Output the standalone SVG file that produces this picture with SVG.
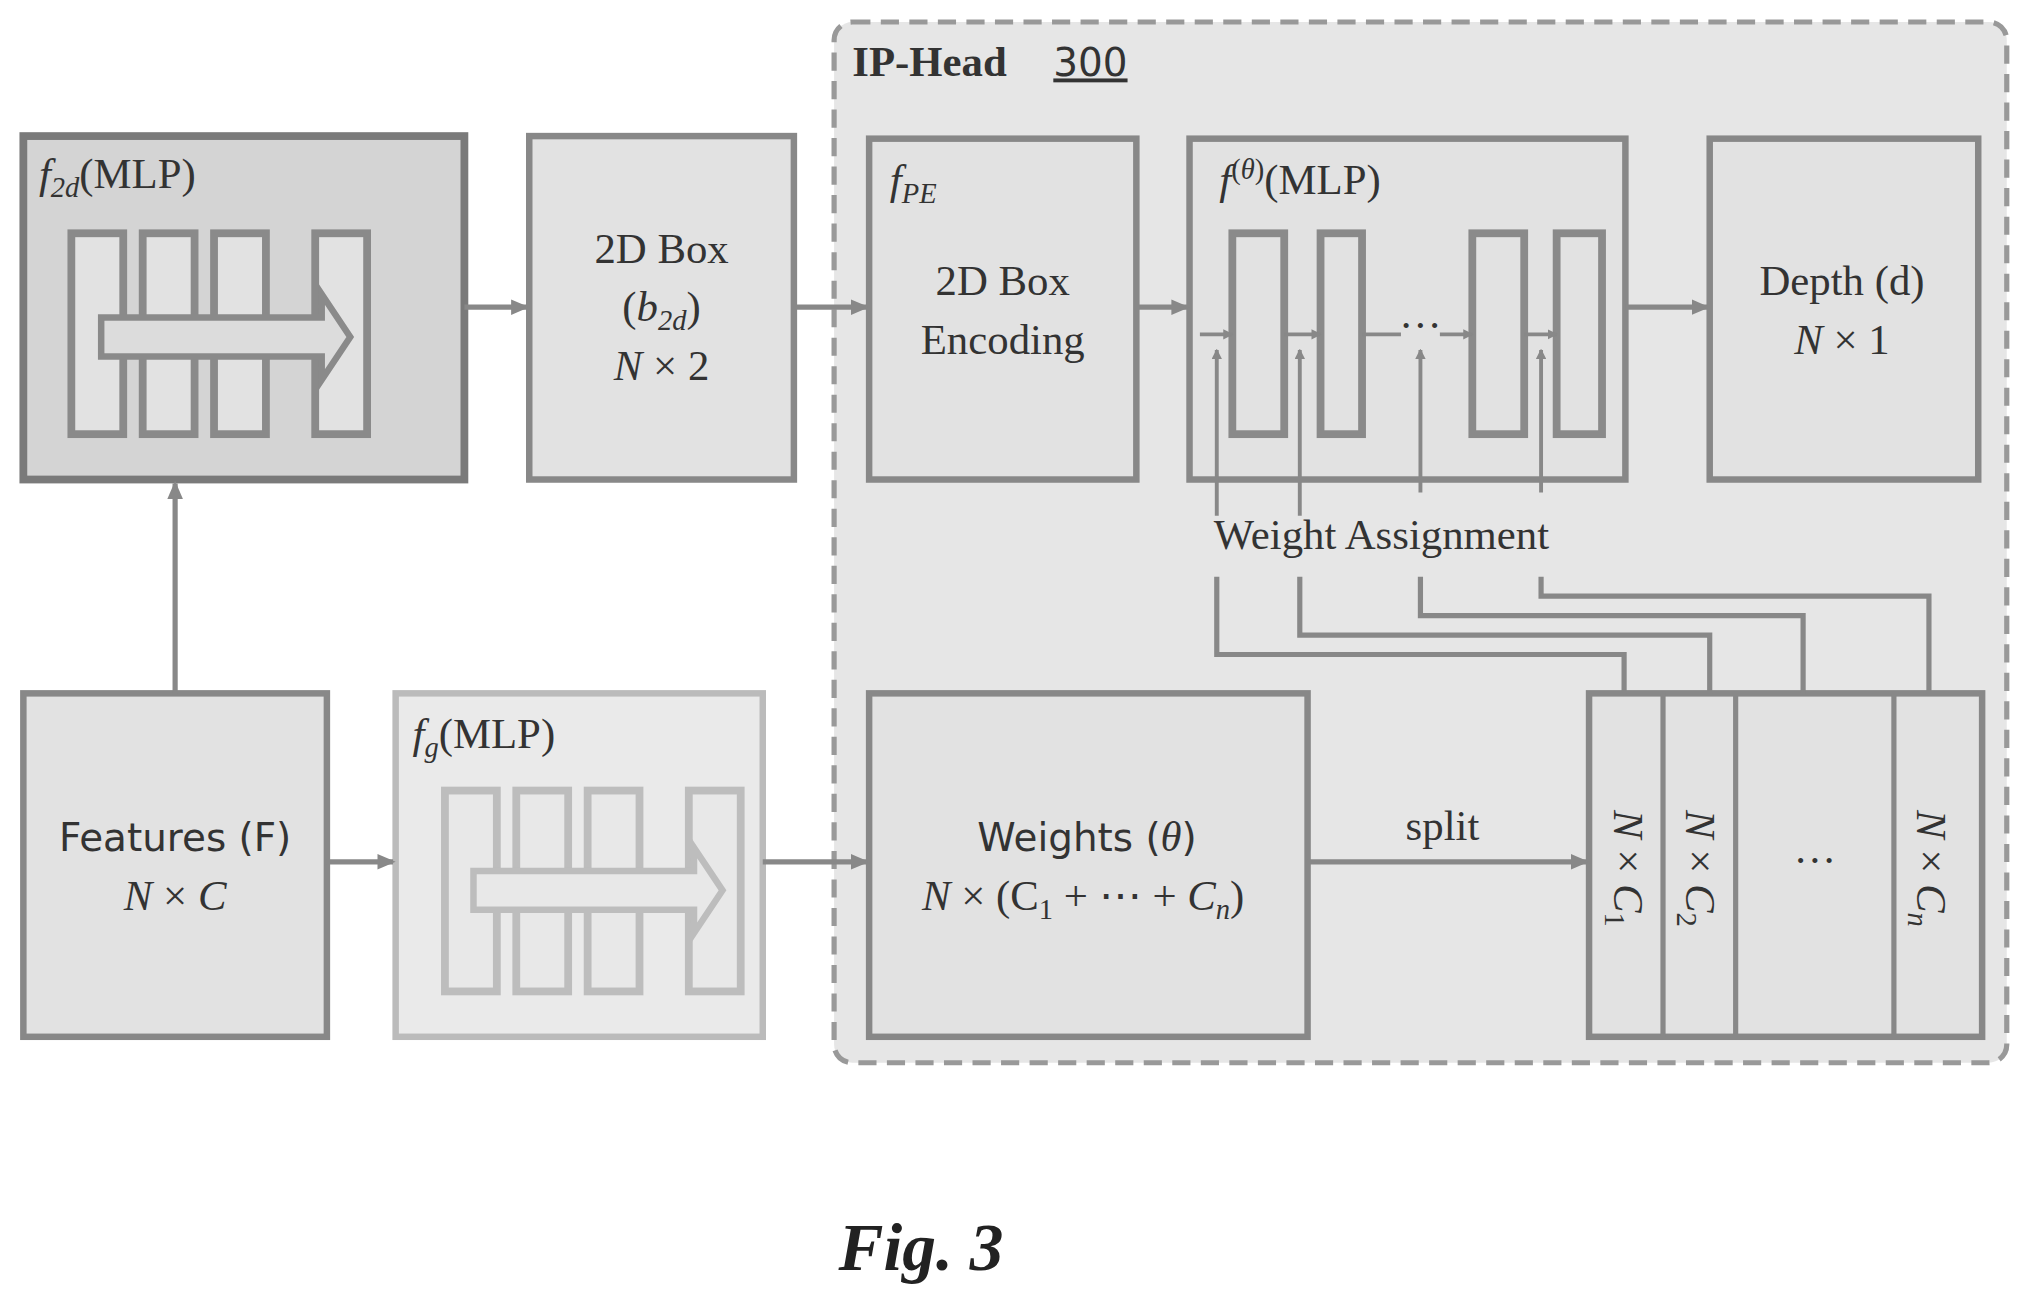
<svg xmlns="http://www.w3.org/2000/svg" width="2034" height="1309" viewBox="0 0 2034 1309">
<style>
.t{font-family:"Liberation Serif",serif;font-size:33px;fill:#333}
.s{font-family:"DejaVu Sans",sans-serif;font-size:30px;fill:#333}
.i{font-style:italic}
.box{fill:#e2e2e2;stroke:#888;stroke-width:5}
.in{fill:#e2e2e2;stroke:#8a8a8a;stroke-width:6}
.ln{fill:none;stroke:#888;stroke-width:4}
</style>
<defs><marker id="a" markerWidth="8" markerHeight="8" refX="7" refY="4" orient="auto" markerUnits="userSpaceOnUse"><path d="M0,0 L8,4 L0,8 z" fill="#888"/></marker>
<marker id="b" markerWidth="14" markerHeight="12" refX="12" refY="6" orient="auto" markerUnits="userSpaceOnUse"><path d="M0,0 L14,6 L0,12 z" fill="#888"/></marker></defs>
<rect width="2034" height="1309" fill="#fff"/>
<g transform="scale(1.2972,1.296)">
<g id="iphead"><rect x="643" y="17" width="904" height="803" rx="14" fill="#e6e6e6" stroke="#999" stroke-width="4" stroke-dasharray="14,8"/>
<text x="657" y="59" class="t" font-weight="bold" font-size="34">IP-Head</text><text x="812" y="59" class="s" font-size="32" text-decoration="underline">300</text></g>
<g id="f2d"><rect x="18" y="105" width="340" height="265" fill="#d4d4d4" stroke="#7a7a7a" stroke-width="6"/>
<text x="30" y="145" class="t"><tspan class="i">f</tspan><tspan class="i" font-size="22" dy="7">2d</tspan><tspan dy="-7">(MLP)</tspan></text>
<g class="in"><rect x="55" y="180" width="40" height="155"/><rect x="110" y="180" width="40" height="155"/><rect x="165" y="180" width="40" height="155"/><rect x="243" y="180" width="40" height="155"/></g>
<path d="M78,245 L248,245 L248,227 L270,260 L248,293 L248,275 L78,275 Z" fill="#dcdcdc" stroke="#8a8a8a" stroke-width="5"/></g>
<g id="box2d"><rect x="408" y="105" width="204" height="265" class="box"/>
<text x="510" y="203" class="t" text-anchor="middle">2D Box</text>
<text x="510" y="248" class="t" text-anchor="middle">(<tspan class="i">b</tspan><tspan class="i" font-size="22" dy="7">2d</tspan><tspan dy="-7">)</tspan></text>
<text x="510" y="293" class="t" text-anchor="middle"><tspan class="i">N</tspan> × 2</text></g>
<g id="fpe"><rect x="670" y="107" width="206" height="263" class="box"/>
<text x="686" y="150" class="t i">f<tspan font-size="22" dy="7">PE</tspan></text>
<text x="773" y="228" class="t" text-anchor="middle">2D Box</text>
<text x="773" y="273" class="t" text-anchor="middle">Encoding</text></g>
<g id="ftheta"><rect x="917" y="107" width="336" height="263" class="box"/>
<text x="940" y="150" class="t"><tspan class="i">f</tspan><tspan font-size="22" dy="-12">(<tspan class="i">θ</tspan>)</tspan><tspan dy="12">(MLP)</tspan></text>
<g class="in" stroke-width="5"><rect x="950" y="180" width="40" height="155"/><rect x="1018" y="180" width="32" height="155"/><rect x="1135" y="180" width="40" height="155"/><rect x="1200" y="180" width="35" height="155"/></g>
<text x="1095" y="262" class="t" text-anchor="middle" font-size="24">···</text></g>
<g id="depth"><rect x="1318" y="107" width="207" height="263" class="box"/>
<text x="1420" y="228" class="t" text-anchor="middle">Depth (d)</text>
<text x="1420" y="273" class="t" text-anchor="middle"><tspan class="i">N</tspan> × 1</text></g>
<g id="features"><rect x="18" y="535" width="234" height="265" class="box"/>
<text x="135" y="657" class="s" text-anchor="middle">Features (F)</text>
<text x="135" y="702" class="t" text-anchor="middle"><tspan class="i">N</tspan> × <tspan class="i">C</tspan></text></g>
<g id="fg"><rect x="305" y="535" width="283" height="265" fill="#eaeaea" stroke="#bbb" stroke-width="5"/>
<text x="318" y="577" class="t"><tspan class="i">f</tspan><tspan class="i" font-size="22" dy="7">g</tspan><tspan dy="-7">(MLP)</tspan></text>
<g fill="#e8e8e8" stroke="#bdbdbd" stroke-width="6"><rect x="343" y="610" width="40" height="155"/><rect x="398" y="610" width="40" height="155"/><rect x="453" y="610" width="40" height="155"/><rect x="531" y="610" width="40" height="155"/>
<path d="M365,672 L535,672 L535,654 L557,687 L535,720 L535,702 L365,702 Z" stroke-width="5"/></g></g>
<g id="weights"><rect x="670" y="535" width="338" height="265" class="box"/>
<text x="838" y="657" class="s" text-anchor="middle">Weights (<tspan class="t i">θ</tspan>)</text>
<text x="835" y="702" class="t" text-anchor="middle"><tspan class="i">N</tspan> × (C<tspan font-size="22" dy="7">1</tspan><tspan dy="-7"> + ⋯ + </tspan><tspan class="i">C</tspan><tspan class="i" font-size="22" dy="7">n</tspan><tspan dy="-7">)</tspan></text></g>
<g id="splitbox"><rect x="1225" y="535" width="303" height="265" class="box"/>
<g class="ln"><line x1="1282" y1="535" x2="1282" y2="800"/><line x1="1338" y1="535" x2="1338" y2="800"/><line x1="1460" y1="535" x2="1460" y2="800"/></g>
<text class="t" transform="translate(1244,670) rotate(90)" text-anchor="middle"><tspan class="i">N</tspan> × <tspan class="i">C</tspan><tspan font-size="22" dy="7">1</tspan></text>
<text class="t" transform="translate(1300,670) rotate(90)" text-anchor="middle"><tspan class="i">N</tspan> × <tspan class="i">C</tspan><tspan font-size="22" dy="7">2</tspan></text>
<text class="t" transform="translate(1478,670) rotate(90)" text-anchor="middle"><tspan class="i">N</tspan> × <tspan class="i">C</tspan><tspan class="i" font-size="22" dy="7">n</tspan></text>
<text x="1399" y="675" class="t" text-anchor="middle">···</text></g>
<text x="1065" y="424" class="t" text-anchor="middle">Weight Assignment</text>
<text x="1112" y="648" class="t" text-anchor="middle">split</text>
<g id="connectors" class="ln">
<line x1="358" y1="237" x2="406" y2="237" marker-end="url(#b)"/>
<line x1="612" y1="237" x2="668" y2="237" marker-end="url(#b)"/>
<line x1="876" y1="237" x2="915" y2="237" marker-end="url(#b)"/>
<line x1="1253" y1="237" x2="1316" y2="237" marker-end="url(#b)"/>
<line x1="135" y1="535" x2="135" y2="373" marker-end="url(#b)"/>
<line x1="252" y1="665" x2="303" y2="665" marker-end="url(#b)"/>
<line x1="588" y1="665" x2="668" y2="665" marker-end="url(#b)"/>
<line x1="1008" y1="665" x2="1223" y2="665" marker-end="url(#b)"/>
<g stroke-width="3"><line x1="925" y1="258" x2="950" y2="258" marker-end="url(#a)"/><line x1="990" y1="258" x2="1018" y2="258" marker-end="url(#a)"/><line x1="1050" y1="258" x2="1080" y2="258"/><line x1="1110" y1="258" x2="1135" y2="258" marker-end="url(#a)"/><line x1="1175" y1="258" x2="1200" y2="258" marker-end="url(#a)"/>
<line x1="938" y1="398" x2="938" y2="270" marker-end="url(#a)"/><line x1="1002" y1="398" x2="1002" y2="270" marker-end="url(#a)"/><line x1="1095" y1="380" x2="1095" y2="270" marker-end="url(#a)"/><line x1="1188" y1="380" x2="1188" y2="270" marker-end="url(#a)"/></g>
<path d="M938,445 V505 H1252 V535"/><path d="M1002,445 V490 H1318 V535"/><path d="M1095,445 V475 H1390 V535"/><path d="M1188,445 V460 H1487 V535"/>
</g>
<text x="710" y="980" font-family="Liberation Serif,serif" font-size="52" font-weight="bold" font-style="italic" text-anchor="middle" fill="#222">Fig. 3</text>
</g>
</svg>
